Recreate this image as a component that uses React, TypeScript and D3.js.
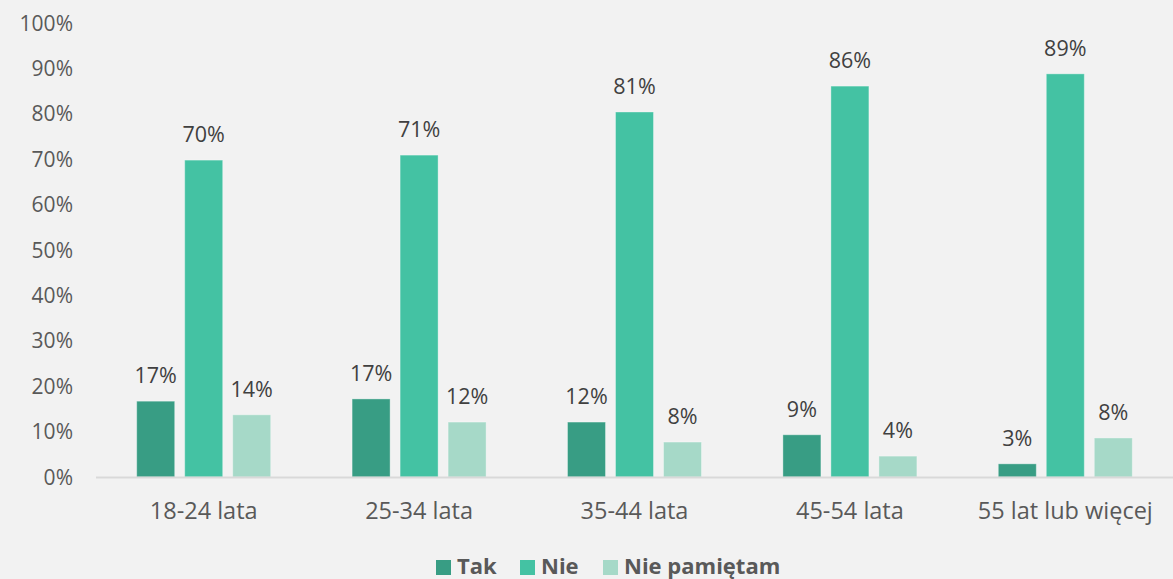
import React from "react";
import * as d3 from "d3";

const categories = ["18-24 lata", "25-34 lata", "35-44 lata", "45-54 lata", "55 lat lub więcej"];
const seriesNames = ["Tak", "Nie", "Nie pamiętam"];
const takValues = [16.7, 17.2, 12.1, 9.3, 2.9];
const nieValues = [69.8, 70.9, 80.4, 86.1, 88.8];
const niePamValues = [13.7, 12.1, 7.7, 4.6, 8.6];
const labelTak = ["17%", "17%", "12%", "9%", "3%"];
const labelNie = ["70%", "71%", "81%", "86%", "89%"];
const labelNiePam = ["14%", "12%", "8%", "4%", "8%"];
const yTicks = [0, 10, 20, 30, 40, 50, 60, 70, 80, 90, 100];

const colors = ["#389D84", "#44C2A3", "#A6D9C8"];
const W = 1173, H = 579;
const font = "'Open Sans', sans-serif";

export default function App() {
  const x0 = d3.scaleBand<string>().domain(categories).range([96, 1173]).paddingInner(0).paddingOuter(0);
  const y = d3.scaleLinear().domain([0, 100]).range([477, 23]);
  const barW = 38, gap = 10;
  const series = [takValues, nieValues, niePamValues];
  const labels = [labelTak, labelNie, labelNiePam];

  const legendItems = [
    { name: seriesNames[0], x: 436 },
    { name: seriesNames[1], x: 520 },
    { name: seriesNames[2], x: 603 },
  ];

  return (
    <div style={{ position: "fixed", left: 0, top: 0, width: W, height: H }}>
      <svg width={W} height={H} style={{ display: "block", background: "#F2F2F2" }}>
        <rect x={0} y={0} width={W} height={H} fill="#F2F2F2" />
        {yTicks.map((t) => (
          <text key={t} x={73} y={y(t)} dy="0.36em" textAnchor="end" fontFamily={font} fontSize={21} fill="#595959">
            {t}%
          </text>
        ))}
        {categories.map((c, ci) => {
          const cx = (x0(c) as number) + x0.bandwidth() / 2;
          return (
            <g key={c}>
              {series.map((vals, si) => {
                const bx = cx + (si - 1) * (barW + gap) - barW / 2;
                const top = y(vals[ci]);
                return (
                  <g key={si}>
                    <rect x={bx} y={top} width={barW} height={y(0) - top} fill={colors[si]} stroke="rgba(255,255,255,0.35)" strokeWidth={1} />
                    <text x={bx + barW / 2} y={top - 18} textAnchor="middle" fontFamily={font} fontSize={21.5} fill="#404040">
                      {labels[si][ci]}
                    </text>
                  </g>
                );
              })}
              <text x={cx} y={519} textAnchor="middle" fontFamily={font} fontSize={23.5} fill="#595959">
                {c}
              </text>
            </g>
          );
        })}
        <line x1={96} x2={1173} y1={y(0) + 0.5} y2={y(0) + 0.5} stroke="#D9D9D9" strokeWidth={2} />
        {legendItems.map((it, i) => (
          <g key={it.name}>
            <rect x={it.x} y={560} width={15} height={15} fill={colors[i]} />
            <text x={it.x + 21} y={574} fontFamily={font} fontSize={22} fontWeight="bold" fill="#595959">
              {it.name}
            </text>
          </g>
        ))}
      </svg>
    </div>
  );
}
